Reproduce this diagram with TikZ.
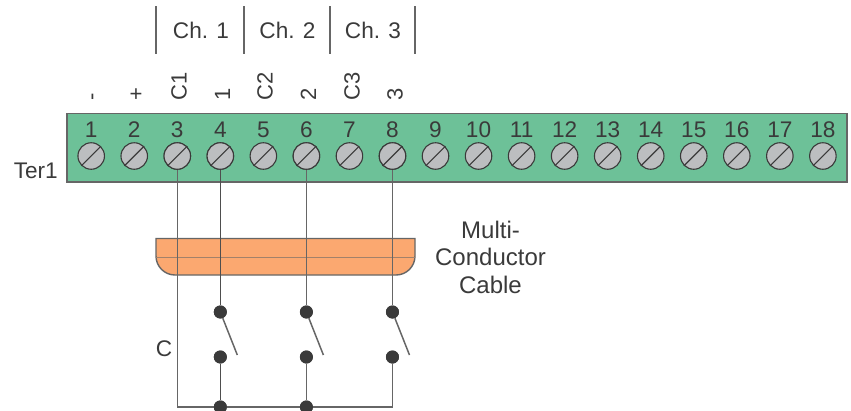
\documentclass[tikz,border=0pt]{standalone}
\usepackage{fontspec}
\setmainfont{Liberation Sans}
\definecolor{boardgreen}{HTML}{6DC198}
\definecolor{screwgray}{HTML}{BCBEC0}
\definecolor{cableorange}{HTML}{FBA870}
\definecolor{ink}{HTML}{3A3A3A}
\definecolor{wire}{HTML}{666666}
\tikzset{
  txt/.style={text=ink,inner sep=0pt,font=\fontsize{22.6}{26}\selectfont},
  rot/.style={text=ink,inner sep=0pt,rotate=90,font=\fontsize{22}{26}\selectfont},
  screw/.style={circle,draw=ink,line width=1.1pt,fill=screwgray,minimum size=26.5pt,inner sep=0pt},
  dot/.style={circle,fill=ink,minimum size=13pt,inner sep=0pt},
  wireline/.style={draw=wire,line width=1.5pt},
  darkwire/.style={draw=ink!90!white,line width=1.4pt},
  sep/.style={draw=wire,line width=1.4pt},
}
\begin{document}
\begin{tikzpicture}[x=1pt,y=-1pt]
\useasboundingbox (0,0) rectangle (851,410);
\clip (0,0) rectangle (851,410);
% terminal board
\path[fill=boardgreen,draw=wire,line width=1.6pt] (67,113.5) rectangle (847,182);
\foreach \i [evaluate=\i as \xx using {91.2+(\i-1)*43.04}] in {1,...,18}{
  \node[screw] (s\i) at (\xx,156) {};
  \draw[ink,line width=1.1pt] (s\i.225) -- (s\i.45);
  \node[txt] (n\i) at (\xx,129.5) {\i};
}
% channel header
\foreach \k/\x in {a/156,b/244,c/330,d/415}{
  \coordinate (\k t) at (\x,6);
  \coordinate (\k b) at (\x,54);
  \draw[sep] (\k t) -- (\k b);
}
\node[txt] (ch1) at (201,30) {Ch. 1};
\node[txt] (ch2) at (287.5,30) {Ch. 2};
\node[txt] (ch3) at (373,30) {Ch. 3};
% rotated terminal labels
\node[rot,anchor=west] (l1) at (95,100.5) {-};
\node[rot,anchor=west] (l2) at (137,100.5) {+};
\node[rot,anchor=west] (l3) at (179,100.5) {C1};
\node[rot,anchor=west] (l4) at (222.5,100.5) {1};
\node[rot,anchor=west] (l5) at (265,100.5) {C2};
\node[rot,anchor=west] (l6) at (308.5,100.5) {2};
\node[rot,anchor=west] (l7) at (352,100.5) {C3};
\node[rot,anchor=west] (l8) at (395,100.5) {3};
\node[txt,anchor=east] (ter) at (58,171) {Ter1};
% cable
\path[fill=cableorange,draw=wire,line width=1.4pt] (156,238.5) -- (415,238.5) -- (415,256)
  arc[start angle=0,end angle=90,radius=19] -- (175,275) arc[start angle=90,end angle=180,radius=19] -- cycle;
\coordinate (cl) at (156,257);
\coordinate (cr) at (415,257);
\draw[wire!60!cableorange,line width=1pt] (cl) -- (cr);
\node[txt,align=center,font=\fontsize{24}{27.5}\selectfont] (mc) at (490.5,257) {Multi-\\Conductor\\Cable};
% switches
\foreach \i/\s in {1/4,2/6,3/8}{
  \node[dot] (up\i) at (s\s |- 0,312) {};
  \node[dot] (lo\i) at (s\s |- 0,357) {};
  \path (up\i) ++(17,43) coordinate (arm\i);
}
\node[dot] (j1) at (s4 |- 0,407) {};
\node[dot] (j2) at (s6 |- 0,407) {};
\coordinate (cc) at (s3 |- 0,407);
\coordinate (cr2) at (s8 |- 0,407);
% wires
\draw[wireline] (s3) -- (cc) -- (j1) -- (j2) -- (cr2) -- (lo3);
\draw[darkwire] (s4) -- (up1);
\draw[wireline] (s6) -- (up2);
\draw[wireline] (s8) -- (up3);
\draw[darkwire] (lo1) -- (j1);
\draw[wireline] (lo2) -- (j2);
\foreach \i in {1,2,3}{\draw[wireline] (up\i) -- (arm\i);}
\foreach \i in {3,4,6,8}{\node[screw] at (s\i) {}; \draw[ink,line width=1.1pt] (s\i.225) -- (s\i.45);}
\foreach \i in {1,2,3}{\node[dot] at (up\i) {}; \node[dot] at (lo\i) {};}
\node[dot] at (j1) {};
\node[dot] at (j2) {};
\node[txt] (clabel) at (164,349) {C};
\end{tikzpicture}
\end{document}
